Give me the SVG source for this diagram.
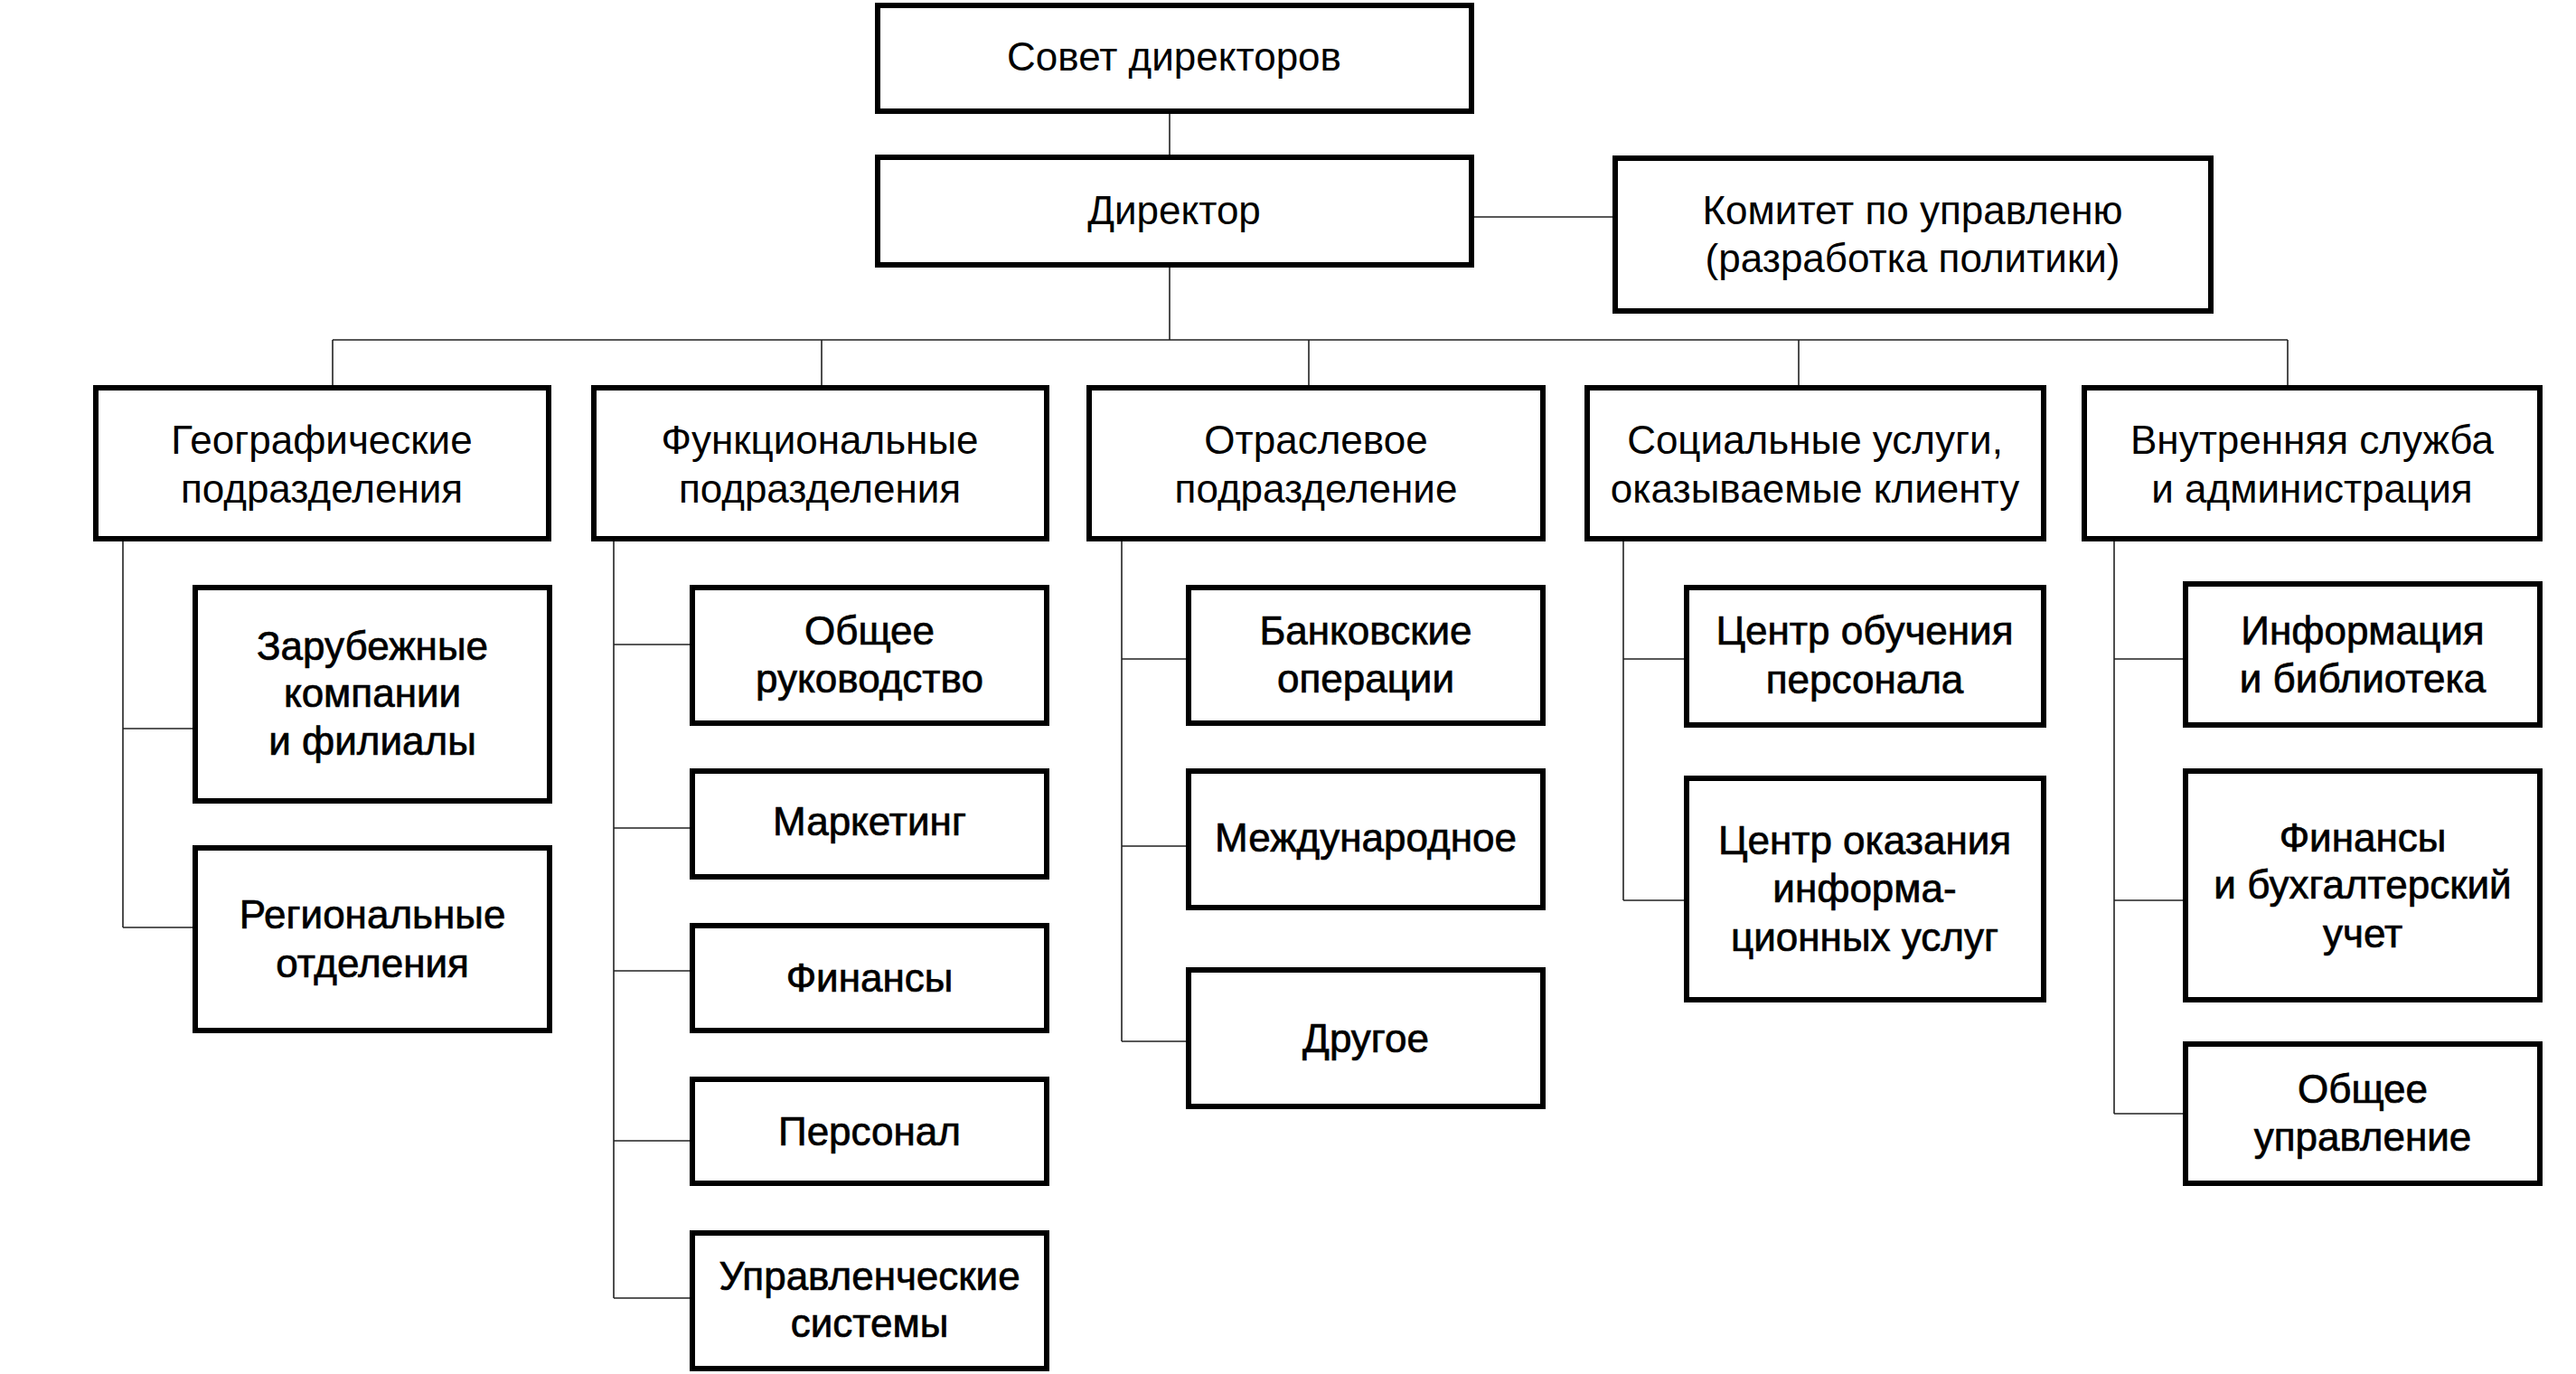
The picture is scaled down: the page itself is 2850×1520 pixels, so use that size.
<svg xmlns="http://www.w3.org/2000/svg" width="2850" height="1520" viewBox="0 0 2850 1520">
<style>
.box{fill:#fff;stroke:#000;stroke-width:6}
.t{font-family:"Liberation Sans",Arial,sans-serif;font-size:44px;fill:#000;text-anchor:middle}
.c{font-family:"Liberation Sans",Arial,sans-serif;font-size:44px;fill:#000;text-anchor:middle;stroke:#000;stroke-width:0.7}
.ln{stroke:#222;stroke-width:1.6;fill:none}
</style>
<rect width="2850" height="1520" fill="#fff"/>
<g id="connectors" class="ln">
<path d="M1294 126V171M1631 240H1784M1294 296V376M368 376H2531M368 376V426M909 376V426M1448 376V426M1990 376V426M2531 376V426"/>
<path d="M136 599V1026M136 806H213M136 1026H213"/>
<path d="M679 599V1436M679 713H763M679 916H763M679 1074H763M679 1262H763M679 1436H763"/>
<path d="M1241 599V1152M1241 729H1312M1241 936H1312M1241 1152H1312"/>
<path d="M1796 599V996M1796 729H1863M1796 996H1863"/>
<path d="M2339 599V1232M2339 729H2415M2339 996H2415M2339 1232H2415"/>
</g>
<g id="sovet"><rect class="box" x="971" y="6" width="657" height="117"/><text class="t" x="1299" y="78">Совет директоров</text></g>
<g id="director"><rect class="box" x="971" y="174" width="657" height="119"/><text class="t" x="1299" y="248">Директор</text></g>
<g id="komitet"><rect class="box" x="1787" y="175" width="659" height="169"/><text class="t" x="2116" y="248">Комитет по управленю</text><text class="t" x="2116" y="301">(разработка политики)</text></g>
<g id="geo"><rect class="box" x="106" y="429" width="501" height="167"/><text class="t" x="356" y="502">Географические</text><text class="t" x="356" y="556">подразделения</text></g>
<g id="func"><rect class="box" x="657" y="429" width="501" height="167"/><text class="t" x="907" y="502">Функциональные</text><text class="t" x="907" y="556">подразделения</text></g>
<g id="otr"><rect class="box" x="1205" y="429" width="502" height="167"/><text class="t" x="1456" y="502">Отраслевое</text><text class="t" x="1456" y="556">подразделение</text></g>
<g id="soc"><rect class="box" x="1756" y="429" width="505" height="167"/><text class="t" x="2008" y="502">Социальные услуги,</text><text class="t" x="2008" y="556">оказываемые клиенту</text></g>
<g id="vnutr"><rect class="box" x="2306" y="429" width="504" height="167"/><text class="t" x="2558" y="502">Внутренняя служба</text><text class="t" x="2558" y="556">и администрация</text></g>
<g id="zarub"><rect class="box" x="216" y="650" width="392" height="236"/><text class="c" x="412" y="730">Зарубежные</text><text class="c" x="412" y="782">компании</text><text class="c" x="412" y="835">и филиалы</text></g>
<g id="region"><rect class="box" x="216" y="938" width="392" height="202"/><text class="c" x="412" y="1027">Региональные</text><text class="c" x="412" y="1081">отделения</text></g>
<g id="obshee_ruk"><rect class="box" x="766" y="650" width="392" height="150"/><text class="c" x="962" y="713">Общее</text><text class="c" x="962" y="766">руководство</text></g>
<g id="marketing"><rect class="box" x="766" y="853" width="392" height="117"/><text class="c" x="962" y="924">Маркетинг</text></g>
<g id="finansy1"><rect class="box" x="766" y="1024" width="392" height="116"/><text class="c" x="962" y="1097">Финансы</text></g>
<g id="personal"><rect class="box" x="766" y="1194" width="392" height="115"/><text class="c" x="962" y="1267">Персонал</text></g>
<g id="upr_sist"><rect class="box" x="766" y="1364" width="392" height="150"/><text class="c" x="962" y="1427">Управленческие</text><text class="c" x="962" y="1479">системы</text></g>
<g id="bank"><rect class="box" x="1315" y="650" width="392" height="150"/><text class="c" x="1511" y="713">Банковские</text><text class="c" x="1511" y="766">операции</text></g>
<g id="mezhd"><rect class="box" x="1315" y="853" width="392" height="151"/><text class="c" x="1511" y="942">Международное</text></g>
<g id="drugoe"><rect class="box" x="1315" y="1073" width="392" height="151"/><text class="c" x="1511" y="1164">Другое</text></g>
<g id="centr_obuch"><rect class="box" x="1866" y="650" width="395" height="152"/><text class="c" x="2063" y="713">Центр обучения</text><text class="c" x="2063" y="767">персонала</text></g>
<g id="centr_okaz"><rect class="box" x="1866" y="861" width="395" height="245"/><text class="c" x="2063" y="945">Центр оказания</text><text class="c" x="2063" y="998">информа-</text><text class="c" x="2063" y="1052">ционных услуг</text></g>
<g id="inform"><rect class="box" x="2418" y="646" width="392" height="156"/><text class="c" x="2614" y="713">Информация</text><text class="c" x="2614" y="766">и библиотека</text></g>
<g id="finansy2"><rect class="box" x="2418" y="853" width="392" height="253"/><text class="c" x="2614" y="942">Финансы</text><text class="c" x="2614" y="994">и бухгалтерский</text><text class="c" x="2614" y="1048">учет</text></g>
<g id="obshee_upr"><rect class="box" x="2418" y="1155" width="392" height="154"/><text class="c" x="2614" y="1220">Общее</text><text class="c" x="2614" y="1273">управление</text></g>
</svg>
